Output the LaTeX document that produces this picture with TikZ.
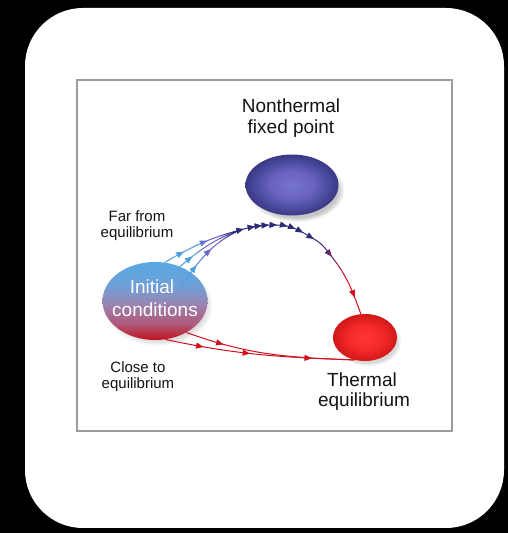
\documentclass[tikz,border=0pt]{standalone}
\usepackage{fontspec}
\setmainfont{Liberation Sans}
\usetikzlibrary{shapes.geometric,shadows,arrows.meta,decorations.markings,fadings}
\definecolor{ntin}{HTML}{7773D0}
\definecolor{ntmid}{HTML}{6662BE}
\definecolor{ntout}{HTML}{393985}
\definecolor{thin}{HTML}{FF3636}
\definecolor{thmid}{HTML}{F42828}
\definecolor{thout}{HTML}{D01818}
\definecolor{ictop}{HTML}{58A8E2}
\definecolor{icup}{HTML}{6EA0D8}
\definecolor{icmid}{HTML}{9A84B0}
\definecolor{iclow}{HTML}{B05878}
\definecolor{icbot}{HTML}{C2121E}
\definecolor{navy}{HTML}{2B2B78}
\definecolor{purp}{HTML}{6B2070}
\definecolor{rd}{HTML}{D41020}
\definecolor{lblue}{HTML}{4C9FE0}
\definecolor{lav}{HTML}{6C64CA}
\definecolor{framegray}{HTML}{9C9C9C}
\colorlet{lbA}{lblue!60!lav}
\colorlet{lbB}{lblue!25!lav}
\colorlet{lnA}{lav!60!navy}
\colorlet{lnB}{lav!25!navy}
\colorlet{npA}{navy!75!purp}
\colorlet{npB}{navy!40!purp}
\colorlet{prA}{purp!60!rd}
\colorlet{prB}{purp!25!rd}
\pgfdeclareradialshading{ntshade}{\pgfpointorigin}{color(0bp)=(ntin); color(12bp)=(ntmid); color(25bp)=(ntout); color(50bp)=(ntout)}
\pgfdeclareradialshading{thshade}{\pgfpointorigin}{color(0bp)=(thin); color(14bp)=(thmid); color(25bp)=(thout); color(50bp)=(thout)}
\pgfdeclareverticalshading{icshade}{100bp}{color(0bp)=(icbot); color(25bp)=(icbot); color(35bp)=(iclow); color(48bp)=(icmid); color(60bp)=(icup); color(75bp)=(ictop); color(100bp)=(ictop)}
\newcommand{\mytri}{\arrow{Triangle[length=7.5pt,width=6pt]}}
\begin{document}
\begin{tikzpicture}[x=1pt,y=1pt,
  bigtext/.style={font=\fontsize{19}{22}\selectfont, anchor=base, inner sep=0pt, text=black!92},
  smalltext/.style={font=\fontsize{15}{17}\selectfont, anchor=base, inner sep=0pt, text=black!92},
  blob/.style={ellipse, inner sep=0pt, shade},
  traj/.style={line width=1pt},
]
\useasboundingbox (0,0) rectangle (508,533);
\fill[black] (0,0) rectangle (508,533);
\fill[white, rounded corners=58pt] (25,5) rectangle (504,525);
\draw[framegray, line width=1.3pt] (77,102) rectangle (452,453);

\node[blob, shading=ntshade, minimum width=93pt, minimum height=61pt,
  circular drop shadow={shadow xshift=4pt, shadow yshift=-5pt, shadow scale=1.04, opacity=0.45}] (nt) at (292,348) {};
\node[blob, shading=thshade, minimum width=64pt, minimum height=47pt,
  circular drop shadow={shadow xshift=3pt, shadow yshift=-4pt, shadow scale=1.04, opacity=0.3}] (th) at (365,195.5) {};
\node[blob, shading=icshade, minimum width=105pt, minimum height=78pt,
  circular drop shadow={shadow xshift=3pt, shadow yshift=-4pt, shadow scale=1.04, opacity=0.3}] (ic) at (155,232) {};

\coordinate (j) at (240,303);
\coordinate (a1) at (276,308);
\coordinate (a2) at (314,294);
\coordinate (a3) at (332,276);
\coordinate (c3s) at (180,245);

% main trajectory through the nonthermal fixed point
\def\mainarc{(j) to[out=15,in=180] (a1) to[out=0,in=150] (a2) to[out=-30,in=128] (a3) to[out=-52,in=110] (th.100)}
\foreach \xa/\xb/\cc in {0/316/navy, 316/322/npA, 322/328/npB, 328/335/purp, 335/340/prA, 340/345/prB, 345/508/rd}{
  \begin{scope}
    \clip (\xa,0) rectangle (\xb,533);
    \draw[traj, \cc, postaction={decorate}, decoration={markings,
      mark=at position 4pt with {\mytri},
      mark=at position 15.5pt with {\mytri},
      mark=at position 22.5pt with {\mytri},
      mark=at position 29.5pt with {\mytri},
      mark=at position 37.5pt with {\mytri},
      mark=at position 48pt with {\mytri},
      mark=at position 56.5pt with {\mytri},
      mark=at position 65pt with {\mytri},
      mark=at position 77.5pt with {\mytri},
      mark=at position 103pt with {\mytri},
      mark=at position 150pt with {\mytri}}] \mainarc;
  \end{scope}
}

% far from equilibrium trajectories
\foreach \xa/\xb/\cc in {0/196/lblue, 196/201/lbA, 201/206/lbB, 206/220/lav, 220/226/lnA, 226/232/lnB, 232/508/navy}{
  \begin{scope}
    \clip (\xa,0) rectangle (\xb,533);
    \draw[traj, \cc, postaction={decorate}, decoration={markings,
      mark=at position 22pt with {\mytri},
      mark=at position 48pt with {\mytri}}] (ic.76) to[out=30,in=195] (j);
    \draw[traj, \cc, postaction={decorate}, decoration={markings,
      mark=at position 16pt with {\mytri}}] (ic.54) to[out=40,in=200] (j);
    \draw[traj, \cc, postaction={decorate}, decoration={markings,
      mark=at position 28pt with {\mytri},
      mark=at position 50pt with {\mytri}}] (c3s) to[out=55,in=205] (j);
  \end{scope}
}

% close to equilibrium trajectories
\draw[traj, rd, postaction={decorate}, decoration={markings,
  mark=at position 39pt with {\mytri}}] (ic.-45) to[out=-20,in=178] (th.245);
\draw[traj, rd, postaction={decorate}, decoration={markings,
  mark=at position 39pt with {\mytri},
  mark=at position 86pt with {\mytri},
  mark=at position 148pt with {\mytri}}] (ic.-75) to[out=-12,in=178] (th.245);

\node[bigtext] (ntl1) at (291,420) {Nonthermal};
\node[bigtext] (ntl2) at (291,399) {fixed point};
\node[bigtext] (thl1) at (362,146) {Thermal};
\node[bigtext] (thl2) at (364,126) {equilibrium};
\node[bigtext, text=white] (icl1) at (152,239) {Initial};
\node[bigtext, text=white] (icl2) at (155,216) {conditions};
\node[smalltext] (far1) at (137,311) {Far from};
\node[smalltext] (far2) at (137,295) {equilibrium};
\node[smalltext] (cl1) at (138,160) {Close to};
\node[smalltext] (cl2) at (138,144.5) {equilibrium};
\end{tikzpicture}
\end{document}
